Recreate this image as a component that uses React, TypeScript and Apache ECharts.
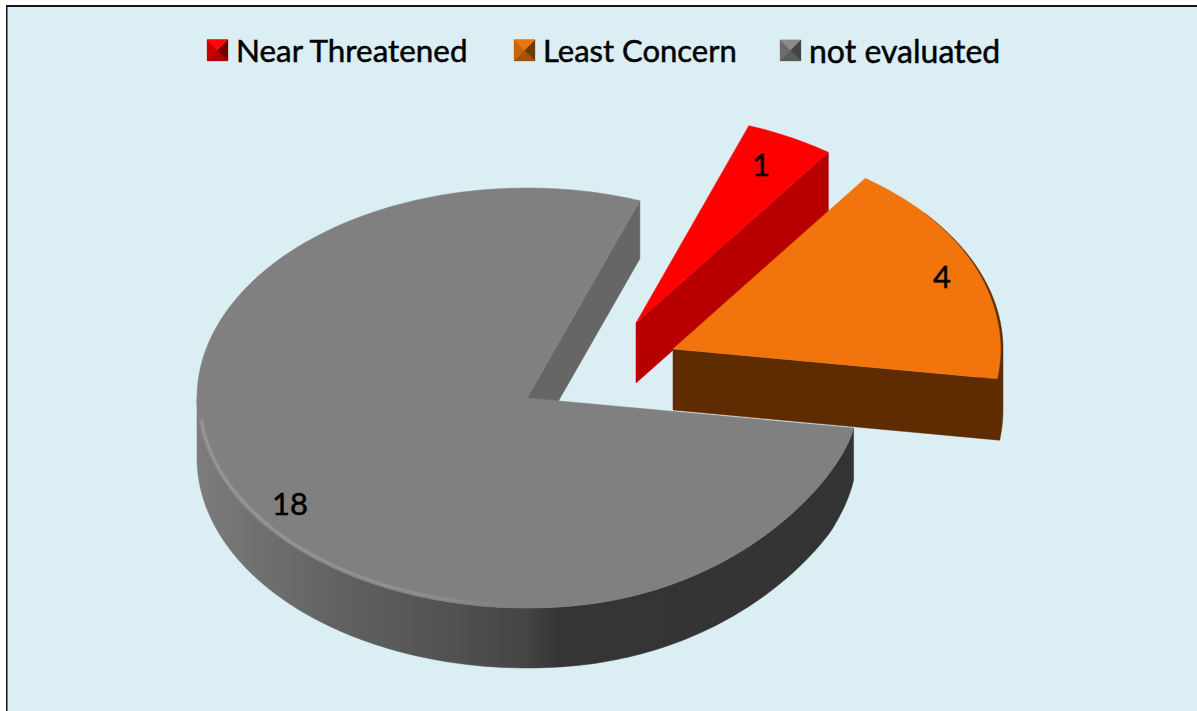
import React, { useEffect, useRef } from "react";
import * as echarts from "echarts";

const categories = ["Near Threatened", "Least Concern", "not evaluated"];
const speciesCounts = [1, 4, 18];
const topColors = ["#ff0000", "#f1750c", "#808080"];
const cutFaceColors = ["#b80000", "#5f2c02", "#666666"];
// pyramid-style legend keys: top, right, bottom, left facets
const legendFacets = [
  ["#ff0808", "#6e0000", "#b00000", "#c80000"],
  ["#e8750f", "#6e3a06", "#a05208", "#c4640c"],
  ["#8c8c8c", "#444444", "#5a5a5a", "#6c6c6c"],
];

const START_DEG = 20;
const CX = 527;
const CY = 398;
const RX = 330;
const RY = 210;
const DEPTH = 60;
const OFFSETS = [[109, -75], [146, -49], [0, 0]];
const DEPTHS = [60, 61, 60];
const LABEL_POS = [[761, 164], [942, 276], [290, 503]];
const DRAW_ORDER = [2, 0, 1];
const ICON_X = [207, 514, 780];
const ICON_Y = 40;
const ICON_SIZE = 21;
const LEGEND_FONT = [31.4, 31, 32];

const total = speciesCounts.reduce((a, b) => a + b, 0);
const startAngles: number[] = [];
speciesCounts.reduce((acc, v, i) => {
  startAngles[i] = acc;
  return acc + (v / total) * 360;
}, START_DEG);

// the reference's perspective pulls the lower right of the disc in slightly
const topWarp = (deg: number) => {
  if (deg <= 98 || deg >= 173) return 0;
  const u = Math.pow((deg - 98) / 75, 0.6);
  return -10 * Math.pow(Math.sin(Math.PI * u), 2);
};
const bottomWarp = (deg: number) => topWarp(deg) - 8 * Math.max(0, 1 - (deg - 98) / 15);

const pt = (cx: number, cy: number, deg: number, shrink = 0, dy = 0): number[] => {
  const a = (deg * Math.PI) / 180;
  return [cx + (RX - shrink) * Math.sin(a), cy + dy - (RY - shrink) * Math.cos(a)];
};
const arc = (
  cx: number,
  cy: number,
  a0: number,
  a1: number,
  shrink: (d: number) => number = () => 0,
  dy: (d: number) => number = () => 0,
) => {
  const out: number[][] = [];
  const n = Math.max(2, Math.ceil(Math.abs(a1 - a0)));
  for (let i = 0; i <= n; i++) {
    const d = a0 + ((a1 - a0) * i) / n;
    out.push(pt(cx, cy, d, shrink(d), dy(d)));
  }
  return out;
};

const wallGradient = new echarts.graphic.LinearGradient(0, 0, 1, 0, [
  { offset: 0, color: "#7c7c7c" },
  { offset: 0.2, color: "#636363" },
  { offset: 0.38, color: "#525252" },
  { offset: 0.5, color: "#454545" },
  { offset: 0.55, color: "#353535" },
  { offset: 1, color: "#333333" },
]);
const rimGradient = new echarts.graphic.LinearGradient(0, 0, 1, 0, [
  { offset: 0, color: "#a4a4a4" },
  { offset: 0.7, color: "#989898" },
  { offset: 1, color: "#808080" },
]);

const sliceRender = (i: number) => () => {
  const a0 = startAngles[i];
  const a1 = a0 + (speciesCounts[i] / total) * 360;
  const cx = CX + OFFSETS[i][0];
  const cy = CY + OFFSETS[i][1];
  const depth = DEPTHS[i];
  const children: any[] = [];
  const poly = (points: number[][], fill: any) => ({
    type: "polygon",
    shape: { points },
    style: { fill, stroke: fill, lineWidth: 0.5 },
  });
  const p1 = pt(cx, cy, a1);
  const faceDepth = i === 2 ? depth - 2 : depth;
  // the cut face that looks towards the viewer
  children.push(poly([[cx, cy], p1, [p1[0], p1[1] + faceDepth], [cx, cy + faceDepth]], cutFaceColors[i]));
  if (i === 1) {
    // outer wall of the orange slice, with its thin dark bevel
    children.push(poly([...arc(cx, cy, a0 + 14, 90), ...arc(cx, cy, 90, a1, () => 0, () => depth)], cutFaceColors[i]));
  }
  if (i === 2) {
    const top = arc(cx, cy, a0, 270, () => 0, topWarp);
    const bottom = arc(cx, cy, 270, a0, () => 0, (d) => depth + bottomWarp(d));
    children.push(poly([...top, ...bottom], wallGradient));
  }
  // top face
  const shrink = i === 1 ? (d: number) => 2.5 * Math.min(1, Math.max(0, (d - (a0 + 14)) / 30)) : () => 0;
  const warp = i === 2 ? topWarp : () => 0;
  children.push(poly([[cx, cy], ...arc(cx, cy, a0, a1, shrink, warp)], topColors[i]));
  if (i === 2) {
    // soft highlight along the bevelled rim of the disc
    const rim = arc(cx, cy, 264, 182, () => 2.5, warp);
    children.push(
      { type: "polyline", shape: { points: rim }, style: { stroke: rimGradient, lineWidth: 4, fill: "none", opacity: 0.3 } },
      { type: "polyline", shape: { points: rim }, style: { stroke: rimGradient, lineWidth: 1.5, fill: "none", opacity: 0.6 } },
    );
  }
  children.push({
    type: "text",
    style: {
      x: LABEL_POS[i][0],
      y: LABEL_POS[i][1],
      text: String(speciesCounts[i]),
      font: "31px Lato",
      fill: "#000000",
      stroke: "#000000",
      lineWidth: 0.5,
      align: "center",
      verticalAlign: "middle",
    },
  });
  return { type: "group", children };
};

export default function App() {
  const ref = useRef<HTMLDivElement>(null);
  useEffect(() => {
    if (!ref.current) return;
    const chart = echarts.init(ref.current, undefined, { renderer: "svg" });
    const iconFacets: any[] = [];
    ICON_X.forEach((x, i) => {
      const y = ICON_Y;
      const s = ICON_SIZE;
      const c = [x + s / 2, y + s / 2];
      const corners = [[x, y], [x + s, y], [x + s, y + s], [x, y + s]];
      corners.forEach((corner, k) => {
        iconFacets.push({
          type: "polygon",
          z: 20,
          shape: { points: [corner, corners[(k + 1) % 4], c] },
          style: { fill: legendFacets[i][k], stroke: legendFacets[i][k], lineWidth: 0.3 },
        });
      });
    });
    chart.setOption({
      animation: false,
      backgroundColor: "#ffffff",
      legend: categories.map((name, i) => ({
        data: [name],
        left: ICON_X[i],
        top: 34,
        padding: 0,
        itemWidth: ICON_SIZE,
        itemHeight: ICON_SIZE,
        icon: "rect",
        selectedMode: false,
        textStyle: {
          fontFamily: "Lato",
          fontSize: LEGEND_FONT[i],
          color: "#000000",
          textBorderColor: "#000000",
          textBorderWidth: 0.5,
          padding: [0, 0, 0, 3],
        },
      })),
      graphic: [
        { type: "rect", z: 0, shape: { x: 6, y: 5, width: 1191, height: 706 }, style: { fill: "#141414" } },
        { type: "rect", z: 0, shape: { x: 7.5, y: 7, width: 1189.5, height: 704 }, style: { fill: "#dbeef4" } },
        ...iconFacets,
      ],
      series: DRAW_ORDER.map((i) => ({
        type: "custom",
        name: categories[i],
        coordinateSystem: "none",
        silent: true,
        clip: false,
        itemStyle: { color: topColors[i] },
        data: [[speciesCounts[i]]],
        renderItem: sliceRender(i),
      })),
    });
    return () => chart.dispose();
  }, []);
  return <div ref={ref} style={{ position: "absolute", left: 0, top: 0, width: 1197, height: 711 }} />;
}
